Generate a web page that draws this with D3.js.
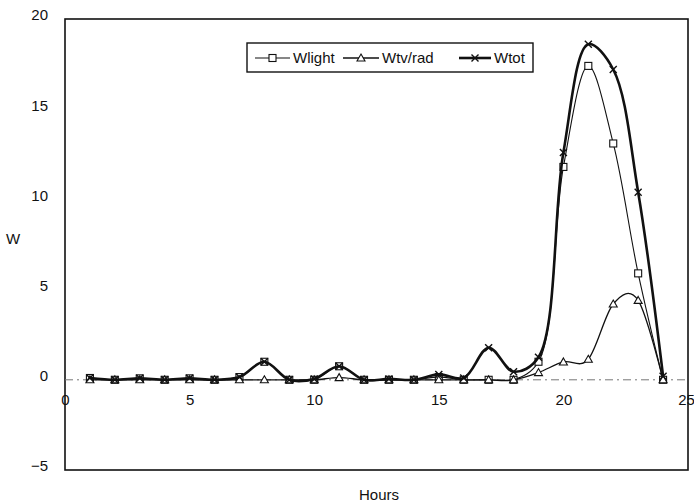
<!DOCTYPE html>
<html>
<head>
<meta charset="utf-8">
<script src="https://cdn.jsdelivr.net/npm/d3@7"></script>
<style>
  body { margin: 0; background: #fff; }
  text { font-family: "Liberation Sans", Arial, sans-serif; fill: #111; }
</style>
</head>
<body>
<svg id="chart" width="694" height="504"></svg>
<script>
// hours of the day
const hours = [1,2,3,4,5,6,7,8,9,10,11,12,13,14,15,16,17,18,19,20,21,22,23,24];

// series values (W)
const wlight = [0.1,0,0.08,0,0.08,0,0.15,1.0,0,0,0.75,0,0,0,0.15,0,0,0,1.0,11.8,17.4,13.1,5.9,0];
const wtvrad = [0,0,0,0,0,0,0,0,0,0,0.12,0,0,0,0,0,0,0,0.4,0.99,1.14,4.2,4.4,0];
const wtot   = [0.1,0,0.08,0,0.08,0,0.15,1.0,0,0.05,0.75,0,0.05,0,0.3,0.1,1.78,0.45,1.25,12.6,18.6,17.2,10.4,0.2];

const xTicks = [0,5,10,15,20,25];
const yTicks = [-5,0,5,10,15,20];

const seriesNames = ['Wlight','Wtv/rad','Wtot'];

const svg = d3.select('#chart');
const fontSize = 15;

// plot frame
const plotLeft = 65, plotRight = 688, plotTop = 19, plotBottom = 470;

let x = d3.scaleLinear().domain([0,25]).range([plotLeft,plotRight]);
let y = d3.scaleLinear().domain([-5,20]).range([plotBottom,plotTop]);

//frame
svg.append('rect')
    .attr('x', plotLeft).attr('y', plotTop)
    .attr('width', plotRight-plotLeft).attr('height', plotBottom-plotTop)
    .attr('fill','none').attr('stroke','#111').attr('stroke-width',1.6);

//zero line
svg.append('line')
    .attr('x1', plotLeft).attr('x2', plotRight)
    .attr('y1', y(0)).attr('y2', y(0))
    .attr('stroke','#777').attr('stroke-width',1)
    .attr('stroke-dasharray','8,4,2,4');

//axes labels (no tick marks, axis drawn through y=0)
let xAxis = d3.axisBottom(x).tickValues(xTicks).tickSize(0).tickPadding(15);
let xg = svg.append('g')
    .attr('transform', `translate(0,${y(0)})`)
    .call(xAxis);
xg.select('.domain').remove();
xg.selectAll('text').attr('font-size', fontSize).attr('fill','#111')
    .attr('font-family','"Liberation Sans", Arial, sans-serif');
// last label sits on the right edge
xg.selectAll('.tick').filter(d => d == 25).select('text').attr('dx', -2);

let yAxis = d3.axisLeft(y).tickValues(yTicks).tickSize(0).tickPadding(17);
let yg = svg.append('g')
    .attr('transform', `translate(${plotLeft},-4)`)
    .call(yAxis);
yg.select('.domain').remove();
yg.selectAll('text').attr('font-size', fontSize).attr('fill','#111')
    .attr('font-family','"Liberation Sans", Arial, sans-serif');

svg.append('text').attr('x', 6).attr('y', 244).attr('font-size', fontSize).text('W');
svg.append('text').attr('x', 379).attr('y', 500).attr('font-size', fontSize)
    .attr('text-anchor','middle').text('Hours');

//lines (smoothed like the spreadsheet original)
const series = [
    {name: seriesNames[0], vals: wlight, width: 1.1, marker: 'square',   curve: d3.curveCatmullRom.alpha(0.5)},
    {name: seriesNames[1], vals: wtvrad, width: 1.3, marker: 'triangle', curve: d3.curveCatmullRom.alpha(0)},
    {name: seriesNames[2], vals: wtot,   width: 2.6, marker: 'cross',    curve: d3.curveCatmullRom.alpha(0.5)}
];

function drawMarker(g, type, cx, cy){
    if(type == 'square'){
        g.append('rect').attr('x', cx-3.5).attr('y', cy-3.5).attr('width',7).attr('height',7)
            .attr('fill','#fff').attr('stroke','#111').attr('stroke-width',1.1);
    } else if(type == 'triangle'){
        g.append('path')
            .attr('d', `M${cx},${cy-4}L${cx+4},${cy+3}L${cx-4},${cy+3}Z`)
            .attr('fill','#fff').attr('stroke','#111').attr('stroke-width',1.1);
    } else {
        g.append('path')
            .attr('d', `M${cx-3.5},${cy-3.5}L${cx+3.5},${cy+3.5}M${cx-3.5},${cy+3.5}L${cx+3.5},${cy-3.5}`)
            .attr('stroke','#111').attr('stroke-width',1.4);
    }
}

for(let s of series){
    let pts = hours.map((h,i)=> [h, s.vals[i]]);
    let line = d3.line()
        .x(function(d){ return x(d[0]); })
        .y(function(d){ return y(d[1]); })
        .curve(s.curve);
    svg.append('path')
        .datum(pts)
        .attr('d', line)
        .attr('fill','none')
        .attr('stroke','#111')
        .attr('stroke-width', s.width)
        .attr('stroke-linejoin','round');
    let g = svg.append('g');
    for(let p of pts) drawMarker(g, s.marker, x(p[0]), y(p[1]));
}

//legend
let lg = svg.append('g');
lg.append('rect')
    .attr('x', 247).attr('y', 43).attr('width', 286).attr('height', 29)
    .attr('fill','#fff').attr('stroke','#111').attr('stroke-width',1.4);

const legendX = [255, 343, 459];
const legendW = [35, 36, 32];
series.forEach(function(s, i){
    let lx = legendX[i], ly = 58;
    lg.append('line')
        .attr('x1', lx).attr('x2', lx+legendW[i])
        .attr('y1', ly).attr('y2', ly)
        .attr('stroke','#111').attr('stroke-width', s.width);
    drawMarker(lg, s.marker, lx+legendW[i]/2, ly);
    lg.append('text')
        .attr('x', lx+legendW[i]+3).attr('y', ly+5)
        .attr('font-size', fontSize)
        .text(s.name);
});
</script>
</body>
</html>
